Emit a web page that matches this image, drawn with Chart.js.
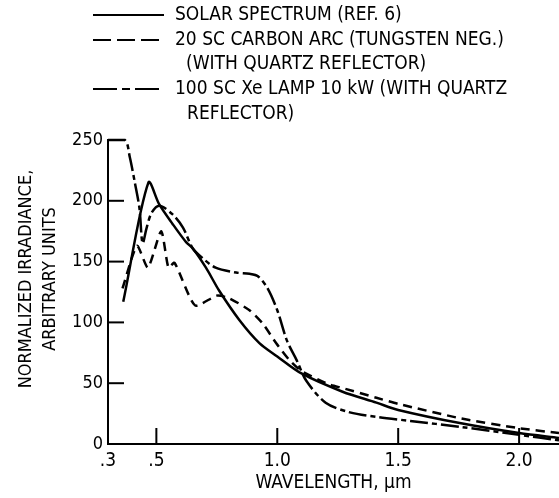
<!DOCTYPE html>
<html>
<head>
<meta charset="utf-8">
<script src="https://cdn.jsdelivr.net/npm/chart.js@4.4.1/dist/chart.umd.min.js"></script>
<style>
  html, body { margin: 0; padding: 0; background: #fff; }
  #box { width: 559px; height: 498px; }
</style>
</head>
<body>
<div id="box"><canvas id="irradianceChart"></canvas></div>
<script>
// Spektrum data (panjang gelombang in um, normalized irradiance)
const solarX = [0.363, 0.467, 0.512, 0.567, 0.623, 0.65, 0.705, 0.76, 0.843, 0.926, 1.0, 1.10, 1.27, 1.41, 1.5, 1.76, 2.0, 2.165];
const solarY = [117, 215, 197, 181, 166, 161, 145, 126, 102, 83, 72, 58, 43, 34, 28, 17, 9, 5];

const carbonX = [0.36, 0.42, 0.465, 0.52, 0.55, 0.575, 0.66, 0.75, 0.80, 0.885, 0.94, 0.995, 1.05, 1.10, 1.215, 1.27, 1.41, 1.5, 1.76, 2.0, 2.165];
const carbonY = [128, 163, 145, 175, 145, 149, 114, 122, 120, 110, 99, 83, 69, 60, 49, 46, 38, 33, 21, 13, 9];

const xenonX = [0.30, 0.37, 0.39, 0.41, 0.43, 0.443, 0.46, 0.48, 0.512, 0.566, 0.61, 0.65, 0.69, 0.745, 0.83, 0.885, 0.92, 0.96, 1.0, 1.04, 1.08, 1.12, 1.2, 1.3, 1.42, 1.55, 1.76, 2.0, 2.165];
const xenonY = [250, 250, 236, 216, 194, 165, 178, 190, 196, 189, 178, 161, 153, 145, 141, 140, 138, 128, 110, 85, 69, 52, 34, 26, 22, 19, 14, 7.5, 3];

const xTickValues = [0.3, 0.5, 1.0, 1.5, 2.0];
const xTickLabels = [".3", ".5", "1.0", "1.5", "2.0"];
const yTickValues = [0, 50, 100, 150, 200, 250];

const legendLines = [
  "SOLAR SPECTRUM (REF. 6)",
  "20 SC CARBON ARC (TUNGSTEN NEG.)",
  "(WITH QUARTZ REFLECTOR)",
  "100 SC Xe LAMP 10 kW (WITH QUARTZ",
  "REFLECTOR)",
];
const yTitleLines = ["NORMALIZED IRRADIANCE,", "ARBITRARY UNITS"];

const fontFamily = "'DejaVu Sans Condensed', 'DejaVu Sans', sans-serif";
Chart.defaults.font.family = fontFamily;
Chart.defaults.color = "#000";

function toPoints(xs, ys) {
  return xs.map((x, i) => ({ x: x, y: ys[i] }));
}

// legend + judul sumbu Y digambar manual
const legendPlugin = {
  id: "oldLegend",
  afterDraw(chart) {
    const ctx = chart.ctx;
    ctx.save();
    ctx.fillStyle = "#000";
    ctx.strokeStyle = "#000";
    ctx.lineWidth = 2.2;
    ctx.font = "19px " + fontFamily;
    ctx.textBaseline = "middle";
    const rows = [
      { y: 15, dash: [], text: legendLines[0], x: 175 },
      { y: 40, dash: [18, 6], text: legendLines[1], x: 175 },
      { y: 64, dash: null, text: legendLines[2], x: 186 },
      { y: 89, dash: [24, 5, 8, 5], text: legendLines[3], x: 175 },
      { y: 114, dash: null, text: legendLines[4], x: 187 },
    ];
    rows.forEach((r) => {
      if (r.dash) {
        ctx.setLineDash(r.dash);
        ctx.beginPath();
        ctx.moveTo(93, r.y);
        ctx.lineTo(164, r.y);
        ctx.stroke();
      }
      ctx.fillText(r.text, r.x, r.y);
    });

    ctx.font = "18px " + fontFamily;
    ctx.textAlign = "center";
    ctx.translate(0, 279);
    ctx.rotate(-Math.PI / 2);
    ctx.fillText(yTitleLines[0], 0, 26);
    ctx.fillText(yTitleLines[1], 0, 50);
    ctx.restore();
  },
};

// tick ke dalam
const innerTicks = {
  id: "innerTicks",
  afterDraw(chart) {
    const ctx = chart.ctx;
    const xs = chart.scales.x;
    const ys = chart.scales.y;
    ctx.save();
    ctx.strokeStyle = "#000";
    ctx.lineWidth = 2;
    xTickValues.slice(1).forEach((v) => {
      const px = xs.getPixelForValue(v);
      ctx.beginPath();
      ctx.moveTo(px, ys.bottom);
      ctx.lineTo(px, ys.bottom - 16);
      ctx.stroke();
    });
    yTickValues.slice(1, -1).forEach((v) => {
      const py = ys.getPixelForValue(v);
      ctx.beginPath();
      ctx.moveTo(xs.left, py);
      ctx.lineTo(xs.left + 16, py);
      ctx.stroke();
    });
    ctx.restore();
  },
};

const ctxIrr = document.getElementById("irradianceChart").getContext("2d");
new Chart(ctxIrr, {
  type: "line",
  data: {
    datasets: [
      {
        label: legendLines[0],
        data: toPoints(solarX, solarY),
        borderColor: "#000",
        borderWidth: 2.5,
        tension: 0.3,
      },
      {
        label: legendLines[1],
        data: toPoints(carbonX, carbonY),
        borderColor: "#000",
        borderWidth: 2.5,
        borderDash: [9, 6],
        tension: 0.2,
      },
      {
        label: legendLines[3],
        data: toPoints(xenonX, xenonY),
        borderColor: "#000",
        borderWidth: 2.5,
        borderDash: [18, 4, 5, 4],
        tension: 0.3,
      },
    ],
  },
  options: {
    responsive: true,
    maintainAspectRatio: false,
    animation: false,
    layout: { padding: { top: 140, right: 0, left: 0, bottom: 0 } },
    elements: { point: { radius: 0 } },
    datasets: { line: { clip: false } },
    plugins: { legend: { display: false }, tooltip: { enabled: false } },
    scales: {
      x: {
        type: "linear",
        min: 0.3,
        max: 2.165,
        afterFit: (s) => { s.height = 54; },
        afterBuildTicks: (s) => { s.ticks = xTickValues.map((v) => ({ value: v })); },
        grid: { display: false, drawTicks: false },
        border: { display: true, color: "#000", width: 2 },
        ticks: {
          padding: 6,
          font: { size: 19 },
          maxRotation: 0,
          autoSkip: false,
          callback: (v) => xTickLabels[xTickValues.indexOf(v)],
        },
        title: {
          display: true,
          text: "WAVELENGTH, \u00b5m",
          font: { size: 19 },
          padding: { top: 0, bottom: 4 },
        },
      },
      y: {
        min: 0,
        max: 250,
        afterFit: (s) => { s.width = 108; },
        afterBuildTicks: (s) => { s.ticks = yTickValues.map((v) => ({ value: v })); },
        grid: { display: false, drawTicks: false },
        border: { display: true, color: "#000", width: 2 },
        ticks: { padding: 5, font: { size: 18 } },
      },
    },
  },
  plugins: [legendPlugin, innerTicks],
});
</script>
</body>
</html>
